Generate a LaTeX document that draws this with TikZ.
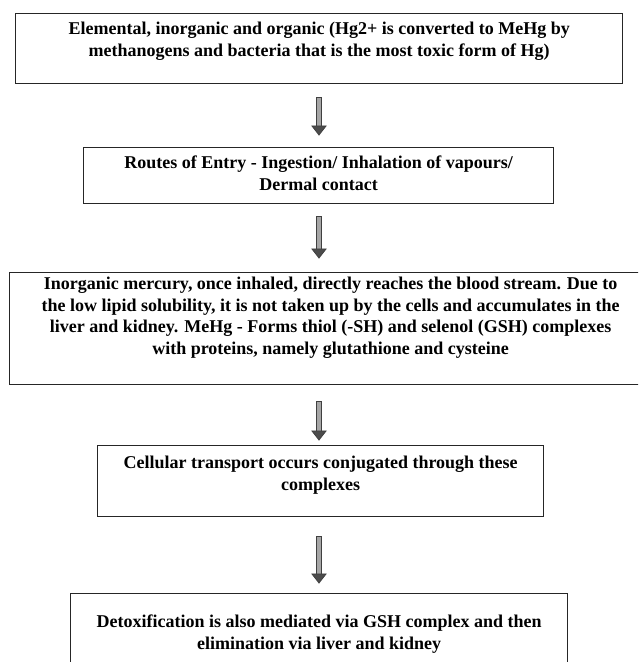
\documentclass[tikz,border=0pt]{standalone}
\usepackage{fontspec}
\setmainfont{Liberation Serif}
\usetikzlibrary{calc}
\newcommand\hgarrow[2]{%
  \filldraw[fill=black!35, draw=black!75, line width=0.9pt]
    ($(#1)+(-2.8,0)$) rectangle ($(#2)+(2.8,9)$);
  \filldraw[fill=black!70, draw=black!75, line width=0.8pt, line join=miter]
    ($(#2)+(-7,9)$) -- (#2) -- ($(#2)+(7,9)$) -- cycle;}
\begin{document}
\begin{tikzpicture}[x=1pt,y=1pt,
  box/.style={draw=black!85, line width=1.3pt, inner sep=0pt, anchor=north west},
  txt/.style={font=\bfseries\fontsize{18}{21.5}\selectfont, align=center, anchor=north, inner sep=0pt}]
\useasboundingbox (0,0) rectangle (638,662);
\clip (0,0) rectangle (638,662);
\fill[white] (0,0) rectangle (638,662);
% boxes
\node[box, minimum width=607pt, minimum height=70pt] (b1) at (15,649) {};
\node[box, minimum width=470pt, minimum height=56pt] (b2) at (83,515) {};
\node[box, minimum width=640pt, minimum height=112pt] (b3) at (9,390) {};
\node[box, minimum width=446pt, minimum height=71pt] (b4) at (97,217) {};
\node[box, minimum width=497pt, minimum height=90pt] (b5) at (70,69) {};
% texts
\node[txt] (t1) at ($(b1.north)+(0,-9)$) {Elemental, inorganic and organic (Hg2+ is converted to MeHg by\\ methanogens and bacteria that is the most toxic form of Hg)};
\node[txt] (t2) at ($(b2.north)+(0,-9)$) {Routes of Entry - Ingestion/ Inhalation of vapours/\\ Dermal contact};
\node[txt] (t3) at ($(b3.north)+(1,-5)$) {Inorganic mercury, once inhaled, directly reaches the blood stream. Due to\\ the low lipid solubility, it is not taken up by the cells and accumulates in the\\ liver and kidney. MeHg - Forms thiol (-SH) and selenol (GSH) complexes\\ with proteins, namely glutathione and cysteine};
\node[txt] (t4) at ($(b4.north)+(0,-11)$) {Cellular transport occurs conjugated through these\\ complexes};
\node[txt] (t5) at ($(b5.north)+(0,-22)$) {Detoxification is also mediated via GSH complex and then\\ elimination via liver and kidney};
% connectors
\coordinate (ax) at (319,0);
\coordinate (a1s) at ($(b1.south -| ax)+(0,-13)$);
\coordinate (a1e) at ($(b2.north -| ax)+(0,12)$);
\coordinate (a2s) at ($(b2.south -| ax)+(0,-12)$);
\coordinate (a2e) at ($(b3.north -| ax)+(0,14)$);
\coordinate (a3s) at ($(b3.south -| ax)+(0,-16)$);
\coordinate (a3e) at ($(b4.north -| ax)+(0,5)$);
\coordinate (a4s) at ($(b4.south -| ax)+(0,-19)$);
\coordinate (a4e) at ($(b5.north -| ax)+(0,10)$);
\hgarrow{a1s}{a1e}
\hgarrow{a2s}{a2e}
\hgarrow{a3s}{a3e}
\hgarrow{a4s}{a4e}
\end{tikzpicture}
\end{document}
